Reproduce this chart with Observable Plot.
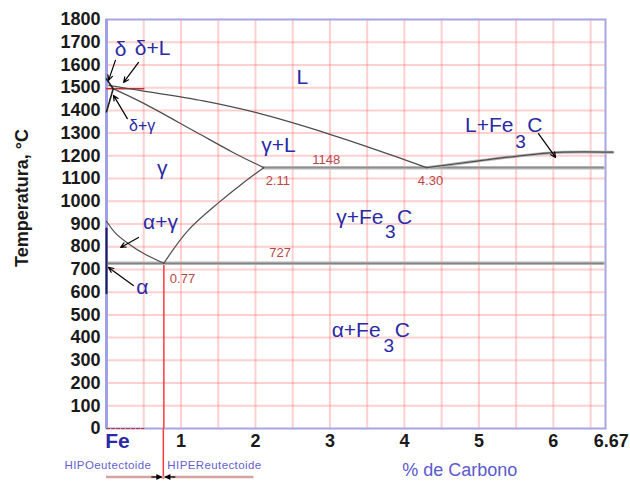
<!DOCTYPE html>
<html><head><meta charset="utf-8">
<script src="https://cdn.jsdelivr.net/npm/d3@7"></script>
<script src="https://cdn.jsdelivr.net/npm/@observablehq/plot@0.6"></script>
<style>body{margin:0;background:#fff;} #chart{width:630px;height:481px;}</style>
</head><body><div id="chart"></div>
<script>
// ---- data ----
const yTicks = [0,100,200,300,400,500,600,700,800,900,1000,1100,1200,1300,1400,1500,1600,1700,1800];
const xTicks = [1,2,3,4,5,6];
const xEndTick = [6.67];
const xGrid = [0.5,1,1.5,2,2.5,3,3.5,4,4.5,5,5.5,6,6.5];
const yGrid = [100,200,300,400,500,600,700,800,900,1000,1100,1200,1300,1400,1500,1600,1700];

const liquidusLeft = [[0.03,1510],[0.5,1485],[1.3,1442],[2.0,1391],[2.97,1298],[3.96,1188],[4.3,1148]];
const liquidusRight = [[4.3,1148],[5.0,1178],[5.5,1198],[6.05,1215],[6.8,1216]];
const solidus = [[0.08,1497],[0.5,1431],[1.2,1305],[1.7,1215],[2.11,1148]];
const acm = [[0.77,727],[1.09,870],[1.51,995],[1.8,1072],[2.11,1148]];
const a3 = [[0,912],[0.12,860],[0.3,812],[0.5,770],[0.77,727]];
const deltaLine = [[0,1394],[0.09,1495],[0,1538]];
const alphaLine = [[0,595],[0,880]];
const eutectic = [[2.11,1148],[6.67,1148]];
const eutectoid = [[0.02,727],[6.67,727]];
const peritectic = [[0,1495],[0.5,1495]];
const baseDash = [[0,0],[0.5,0]];
const eutectoidC = [0.77];

// phase labels (centred)
const bigLabels = [
  {t:"δ", x:0.19, y:1671},
  {t:"δ+L", x:0.62, y:1672},
  {t:"L", x:2.63, y:1545},
  {t:"γ", x:0.75, y:1144},
  {t:"γ+L", x:2.31, y:1245},
  {t:"α+γ", x:0.725, y:907},
  {t:"α", x:0.48, y:620}
];
// "…Fe" part (right-aligned), "C" part (left-aligned), subscript "3"
const cementitePrefix = [
  {t:"L+Fe", x:5.465, y:1334},
  {t:"γ+Fe", x:3.72, y:929},
  {t:"α+Fe", x:3.68, y:431}
];
const cementiteC = [
  {t:"C", x:5.65, y:1334},
  {t:"C", x:3.90, y:929},
  {t:"C", x:3.87, y:431}
];
const subLabels = [
  {t:"3", x:5.56, y:1262},
  {t:"3", x:3.81, y:866},
  {t:"3", x:3.79, y:362}
];
const smallLabels = [{t:"δ+γ", x:0.48, y:1334}];
const redLabels = [
  {t:"1148", x:2.95, y:1184},
  {t:"2.11", x:2.30, y:1091},
  {t:"4.30", x:4.35, y:1091},
  {t:"727", x:2.33, y:775},
  {t:"0.77", x:1.02, y:660}
];
const arrows = [
  {x1:0.12, y1:1620, x2:0.027, y2:1532},
  {x1:0.43, y1:1611, x2:0.23, y2:1523},
  {x1:0.28, y1:1364, x2:0.094, y2:1466},
  {x1:0.43, y1:841, x2:0.19, y2:797},
  {x1:0.36, y1:629, x2:0.027, y2:709},
  {x1:5.80, y1:1298, x2:6.03, y2:1193}
];

// ---- chart ----
const font = "Liberation Sans, Arial, Helvetica, sans-serif";
const blue = "#2a2aa5";
const lineColor = "#4d4d4d";
const line = (data, opts={}) => Plot.line(data, {x: d => d[0], y: d => d[1], stroke: lineColor, strokeWidth: 1.2, ...opts});

const plot = Plot.plot({
  width: 630, height: 481,
  marginLeft: 106, marginRight: 25, marginTop: 19, marginBottom: 53,
  x: {domain: [0, 6.7], axis: null},
  y: {domain: [0, 1800]},
  style: {fontFamily: font, background: "#fff", overflow: "visible"},
  marks: [
    Plot.ruleX(xGrid, {stroke: "#ff5050", strokeOpacity: 0.27, strokeWidth: 2}),
    Plot.ruleY(yGrid, {stroke: "#ff5050", strokeOpacity: 0.27, strokeWidth: 2}),
    Plot.frame({stroke: "#a6a6e2", strokeWidth: 2}),
    Plot.ruleX([0], {stroke: "#a0a0e6", strokeWidth: 3}),
    Plot.ruleX(eutectoidC, {y1: 727, y2: 0, stroke: "#ff3a3a", strokeWidth: 1.5}),
    line(peritectic, {stroke: "#c43030", strokeWidth: 1.5}),
    line(baseDash, {stroke: "#c43030", strokeWidth: 1.2, strokeDasharray: "3,2"}),
    line(eutectic, {stroke: "#b4b4b4", strokeWidth: 3.5}),
    line(eutectic, {stroke: "#888", strokeWidth: 1}),
    line(eutectoid, {stroke: "#b4b4b4", strokeWidth: 3.5}),
    line(eutectoid, {stroke: "#777", strokeWidth: 1}),
    line(liquidusRight, {stroke: "#b4b4b4", strokeWidth: 3, curve: "catmull-rom"}),
    line(liquidusRight, {curve: "catmull-rom"}),
    line(liquidusLeft, {curve: "catmull-rom"}),
    line(solidus, {curve: "catmull-rom"}),
    line(acm, {curve: "catmull-rom"}),
    line(a3, {curve: "catmull-rom"}),
    line(deltaLine, {stroke: "#222", strokeWidth: 1.6}),
    line(alphaLine, {stroke: "#1d1d5a", strokeWidth: 2}),
    Plot.arrow(arrows, {x1: "x1", y1: "y1", x2: "x2", y2: "y2", stroke: "#000", strokeWidth: 1.2, headLength: 7, headAngle: 50}),
    Plot.text(bigLabels, {x: "x", y: "y", text: "t", fill: blue, fontSize: 21, letterSpacing: 2}),
    Plot.text(cementitePrefix, {x: "x", y: "y", text: "t", fill: blue, fontSize: 21, letterSpacing: 2, textAnchor: "end"}),
    Plot.text(cementiteC, {x: "x", y: "y", text: "t", fill: blue, fontSize: 21, textAnchor: "start"}),
    Plot.text(subLabels, {x: "x", y: "y", text: "t", fill: blue, fontSize: 19}),
    Plot.text(smallLabels, {x: "x", y: "y", text: "t", fill: blue, fontSize: 16, letterSpacing: 1.5}),
    Plot.text(redLabels, {x: "x", y: "y", text: "t", fill: "#b84848", fontSize: 13, letterSpacing: 1.2}),
    Plot.axisY(yTicks, {tickSize: 0, tickPadding: 6, fontSize: 18, fontWeight: "bold", fill: "#1a1a1a", label: null, tickFormat: d => String(d)}),
    Plot.text(xTicks, {x: d => d, frameAnchor: "bottom", dy: 18, text: d => String(d), fontSize: 18, fontWeight: "bold", fill: "#1a1a1a"}),
    Plot.text(xEndTick, {x: d => d, frameAnchor: "bottom", dy: 18, dx: 8, text: d => String(d), fontSize: 18, fontWeight: "bold", fill: "#1a1a1a"}),
    Plot.text(["Fe"], {x: 0, frameAnchor: "bottom", dy: 19, dx: 11, text: d => d, fontSize: 21, fontWeight: "bold", fill: blue}),
    Plot.text(["Temperatura, °C"], {frameAnchor: "left", dx: -84, dy: -26, rotate: -90, textAnchor: "middle", text: d => d, fontSize: 18, fontWeight: "bold", fill: "#1a1a1a"})
  ]
});

// below-axis annotations drawn with the plot's own scales
const sx = plot.scale("x"), sy = plot.scale("y");
const svg = d3.select(plot);
const xc = sx.apply(0.77), yb = sy.apply(0);
const g = svg.append("g");
g.append("line").attr("x1", xc).attr("x2", xc).attr("y1", yb).attr("y2", yb + 51)
  .attr("stroke", "#ff3a3a").attr("stroke-width", 1.5);
g.append("line").attr("x1", sx.apply(0)).attr("x2", sx.apply(1.98)).attr("y1", yb + 49).attr("y2", yb + 49)
  .attr("stroke", "#d6a3a3").attr("stroke-width", 2.5);
g.append("text").attr("x", xc - 12).attr("y", yb + 38).attr("text-anchor", "end").attr("dominant-baseline", "middle")
  .attr("font-family", font).attr("font-size", 11.5).attr("letter-spacing", 0.4).attr("fill", "#6262cf").text("HIPOeutectoide");
g.append("text").attr("x", xc + 4).attr("y", yb + 38).attr("text-anchor", "start").attr("dominant-baseline", "middle")
  .attr("font-family", font).attr("font-size", 11.5).attr("letter-spacing", 0.4).attr("fill", "#6262cf").text("HIPEReutectoide");
// small arrows pointing at 0.77
g.append("line").attr("x1", xc - 12).attr("x2", xc - 2).attr("y1", yb + 49).attr("y2", yb + 49).attr("stroke", "#000").attr("stroke-width", 1.2);
g.append("line").attr("x1", xc + 12).attr("x2", xc + 2).attr("y1", yb + 49).attr("y2", yb + 49).attr("stroke", "#000").attr("stroke-width", 1.2);
g.append("path").attr("d", `M${xc-1},${yb+49} l-6,-3 l0,6 z`).attr("fill", "#000");
g.append("path").attr("d", `M${xc+1},${yb+49} l6,-3 l0,6 z`).attr("fill", "#000");
g.append("text").attr("x", sx.apply(4.75)).attr("y", yb + 43).attr("text-anchor", "middle").attr("dominant-baseline", "middle")
  .attr("font-family", font).attr("font-size", 18).attr("fill", "#5a5acc").text("% de Carbono");

document.getElementById("chart").appendChild(plot);
</script>
</body></html>
